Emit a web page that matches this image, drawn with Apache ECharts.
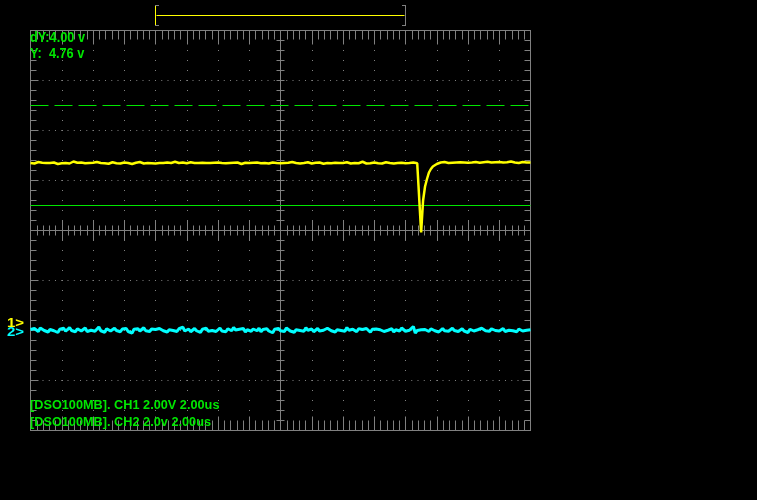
<!DOCTYPE html>
<html><head><meta charset="utf-8">
<script src="https://cdn.jsdelivr.net/npm/echarts@6/dist/echarts.min.js"></script>
<style>html,body{margin:0;padding:0;background:#000;}#c{width:757px;height:500px;}</style>
</head><body><div id="c"></div>
<script>
// ---- data ----
const timeStepUs = 0.125;          // sample spacing in µs (2.00 µs / div)
const timeRange = [0, 32];          // µs across the screen
const voltRange = [-8, 8];          // V across the screen (2.00 V / div)
const timePerDiv = 2;
const voltPerDiv = 2;

const ch1Volts = [
 2.70,2.72,2.68,2.70,2.74,2.69,2.71,2.67,2.70,2.73,2.70,2.68,2.72,2.70,2.66,2.71,
 2.69,2.73,2.70,2.71,2.68,2.70,2.76,2.69,2.71,2.68,2.72,2.70,2.69,2.73,2.70,2.68,
 2.71,2.70,2.74,2.68,2.70,2.72,2.69,2.70,2.67,2.71,2.73,2.70,2.69,2.72,2.68,2.70,
 2.72,2.69,2.70,2.73,2.66,2.70,2.71,2.69,2.74,2.70,2.68,2.71,2.70,2.72,2.69,2.70,
 2.68,2.71,2.70,2.73,2.70,2.69,2.72,2.68,2.70,2.71,2.75,2.69,2.70,2.68,2.72,2.70,
 2.69,2.70,2.73,2.67,2.70,2.72,2.70,2.69,2.71,2.68,2.70,2.73,2.70,2.69,2.71,2.70,
 2.72,2.68,2.70,2.71,2.69,2.74,2.70,2.68,2.71,2.70,2.72,2.69,2.66,2.70,2.71,2.73,
 2.70,2.69,2.71,2.68,2.72,2.70,2.69,2.73,2.70,2.71,2.68,2.70,2.72,2.69,2.70,2.71,
 2.69,2.72,2.70,2.68,2.71,2.70,2.74,2.69,2.70,2.72,2.68,2.71,2.70,2.69,2.73,2.70,
 2.68,2.70,2.71,2.69,2.72,2.70,2.67,2.71,2.70,2.73,2.69,2.70,2.71,2.68,2.70,2.72,
 2.70,2.69,2.73,2.70,2.68,2.71,2.70,2.72,2.69,2.70,2.75,2.70,2.68,2.71,2.69,2.70,
 2.72,2.70,2.69,2.71,2.68,2.70,2.73,2.69,2.70,2.71,2.68,2.72,2.70,2.69,2.71,2.70,
 2.69,2.71,2.70,2.68,2.72,2.70,2.69,2.70,-0.08,1.20,1.76,2.06,2.32,2.46,2.56,2.62,
 2.66,2.70,2.72,2.71,2.74,2.72,2.70,2.73,2.71,2.76,2.72,2.70,2.73,2.71,2.72,2.74,
 2.71,2.73,2.72,2.70,2.74,2.72,2.71,2.69,2.73,2.72,2.75,2.71,2.72,2.70,2.73,2.72,
 2.74,2.71,2.72,2.70,2.73,2.72,2.76,2.71,2.72,2.73,2.70,2.72,2.74,2.71,2.72,2.73,
 2.72
];
const ch2Volts = [
 -3.96,-4.02,-3.92,-3.98,-4.04,-3.90,-3.97,-4.00,-3.94,-4.06,-3.96,-3.92,-4.01,-3.97,-4.08,-3.95,
 -3.99,-3.91,-4.03,-3.96,-3.88,-4.00,-3.97,-4.05,-3.93,-3.98,-4.02,-3.95,-3.90,-4.04,-3.97,-3.99,
 -3.94,-4.03,-3.97,-3.86,-4.01,-3.96,-4.07,-3.93,-3.99,-4.02,-3.95,-3.91,-4.00,-3.97,-4.05,-3.94,
 -3.98,-3.92,-4.04,-3.97,-4.10,-3.95,-3.99,-3.93,-4.02,-3.96,-3.89,-4.01,-3.97,-4.04,-3.94,-3.99,
 -3.96,-4.03,-3.92,-3.98,-4.01,-3.95,-4.06,-3.97,-3.91,-4.00,-3.96,-4.04,-3.93,-3.99,-3.87,-4.02,
 -3.97,-3.94,-4.05,-3.98,-3.92,-4.01,-3.96,-4.08,-3.95,-3.99,-3.91,-4.03,-3.97,-4.00,-3.94,-4.04,
 -3.96,-3.90,-4.02,-3.97,-4.05,-3.93,-3.99,-4.01,-3.88,-3.98,-4.04,-3.95,-4.00,-3.92,-4.06,-3.97,
 -3.99,-4.03,-3.94,-3.97,-4.01,-3.91,-4.05,-3.96,-3.99,-3.93,-4.02,-3.97,-4.09,-3.95,-3.98,-3.92,
 -4.01,-3.96,-4.04,-3.90,-3.98,-4.02,-3.95,-4.07,-3.97,-3.93,-4.00,-3.96,-4.03,-3.89,-3.99,-4.01,
 -3.94,-4.05,-3.97,-3.92,-4.02,-3.96,-3.99,-4.04,-3.91,-3.98,-4.01,-3.95,-4.06,-3.97,-3.93,-4.00,
 -3.96,-4.03,-3.88,-3.99,-4.02,-3.95,-3.97,-4.05,-3.93,-4.00,-3.96,-4.03,-3.92,-3.98,-4.07,-3.95,
 -3.99,-3.94,-4.02,-3.97,-3.91,-4.04,-3.96,-3.99,-4.01,-3.93,-4.06,-3.97,-3.95,-4.02,-3.90,-3.98,
 -4.03,-3.96,-3.99,-3.92,-3.84,-4.10,-4.00,-3.94,-3.97,-4.02,-3.96,-3.99,-4.04,-3.93,-3.97,-4.01,
 -3.95,-4.06,-3.98,-3.92,-4.01,-3.96,-4.03,-3.97,-3.91,-4.00,-3.95,-4.04,-3.98,-3.93,-4.02,-3.97,
 -4.08,-3.95,-3.99,-4.02,-3.94,-3.97,-4.05,-3.91,-3.99,-4.01,-3.96,-4.03,-3.93,-3.98,-4.00,-3.95,
 -4.02,-3.97,-3.92,-4.04,-3.96,-3.99,-3.93,-4.01,-3.97,-4.05,-3.94,-3.98,-4.02,-3.96,-3.99,-4.01,
 -3.97
];
const cursorLevels = [5.0, 1.0];    // V (dashed, solid)
const infoLines = ['dY:4.00 v', 'Y:  4.76 v'];
const statusLines = ['[DSO100MB]. CH1 2.00V 2.00us', '[DSO100MB]. CH2 2.0v 2.00us'];
const channelMarkers = ['1>', '2>'];

// ---- styling ----
const GRAY = '#808080';
const GREEN = '#00e600';
const YELLOW = '#ffff00';
const CYAN = '#00ffff';

const toPairs = arr => arr.map((v, i) => [i * timeStepUs, v]);

function xAx(pos, offset, inside, major, minor, split) {
  return {
    type: 'value', position: pos, offset: offset,
    min: timeRange[0], max: timeRange[1], interval: timePerDiv,
    axisLine: { show: true, onZero: false, lineStyle: { color: GRAY, width: 1 } },
    axisTick: { show: true, inside: inside, length: major, lineStyle: { color: GRAY, width: 1 } },
    minorTick: { show: true, splitNumber: 5, length: minor, lineStyle: { color: GRAY, width: 1 } },
    axisLabel: { show: false },
    splitLine: split ? { show: true, lineStyle: { color: GRAY, width: 1, type: [1, 9], dashOffset: 0.5 } } : { show: false },
    minorSplitLine: { show: false }
  };
}
function yAx(pos, offset, inside, major, minor, split) {
  return {
    type: 'value', position: pos, offset: offset,
    min: voltRange[0], max: voltRange[1], interval: voltPerDiv,
    axisLine: { show: true, onZero: false, lineStyle: { color: GRAY, width: 1 } },
    axisTick: { show: true, inside: inside, length: major, lineStyle: { color: GRAY, width: 1 } },
    minorTick: { show: true, splitNumber: 5, length: minor, lineStyle: { color: GRAY, width: 1 } },
    axisLabel: { show: false },
    splitLine: split ? { show: true, lineStyle: { color: GRAY, width: 1, type: [1, 5.25], dashOffset: 0.5 } } : { show: false },
    minorSplitLine: { show: false }
  };
}

const chart = echarts.init(document.getElementById('c'), null, { renderer: 'canvas' });
const txt = (text, x, y, size, color, sx) => ({
  type: 'text', x: x, y: y, scaleX: sx, z: 100,
  style: { text: text, font: 'bold ' + size + 'px "Liberation Sans", Arial, sans-serif', fill: color, verticalAlign: 'middle', align: 'left' }
});
const ln = (x1, y1, x2, y2, c) => ({ type: 'line', z: 100, shape: { x1, y1, x2, y2 }, style: { stroke: c, lineWidth: 1 } });

chart.setOption({
  backgroundColor: '#000',
  animation: false,
  grid: { left: 30.5, top: 30.5, width: 500, height: 400, show: false },
  xAxis: [
    xAx('bottom', 0, true, 14, 10, true),
    xAx('top', 0, true, 14, 9, false),
    xAx('bottom', -200, true, 10, 5, false),
    xAx('bottom', -200, false, 10, 5, false)
  ],
  yAxis: [
    yAx('left', 0, true, 8, 6, true),
    yAx('right', 0, true, 8, 6, false),
    yAx('left', -250, true, 4, 4, false),
    yAx('left', -250, false, 4, 4, false)
  ],
  series: [
    {
      type: 'line', name: 'CH1', data: toPairs(ch1Volts), showSymbol: false, symbol: 'none',
      lineStyle: { color: YELLOW, width: 2.5 }, z: 5,
      markLine: {
        silent: true, symbol: 'none', label: { show: false },
        data: [
          { yAxis: cursorLevels[0], lineStyle: { color: GREEN, width: 1, type: [18, 6] } },
          { yAxis: cursorLevels[1], lineStyle: { color: GREEN, width: 1, type: 'solid' } }
        ]
      }
    },
    {
      type: 'line', name: 'CH2', data: toPairs(ch2Volts), showSymbol: false, symbol: 'none',
      lineStyle: { color: CYAN, width: 3 }, z: 4
    }
  ],
  graphic: [
    txt(infoLines[0], 30, 38, 15, GREEN, 0.85),
    txt(infoLines[1], 30, 54, 15, GREEN, 0.85),
    txt(statusLines[0], 30, 406, 12, GREEN, 1.06),
    txt(statusLines[1], 30, 422.5, 12, GREEN, 1.06),
    txt(channelMarkers[0], 7, 324, 12, YELLOW, 1.25),
    txt(channelMarkers[1], 7, 332.5, 12, CYAN, 1.25),
    ln(156.5, 15.5, 404.5, 15.5, YELLOW),
    ln(155.5, 6, 155.5, 25, YELLOW),
    ln(155, 5.5, 159, 5.5, GRAY),
    ln(155, 25.5, 159, 25.5, GRAY),
    ln(405.5, 5, 405.5, 26, GRAY),
    ln(402, 5.5, 406, 5.5, GRAY),
    ln(402, 25.5, 406, 25.5, GRAY)
  ]
});
</script>
</body></html>
